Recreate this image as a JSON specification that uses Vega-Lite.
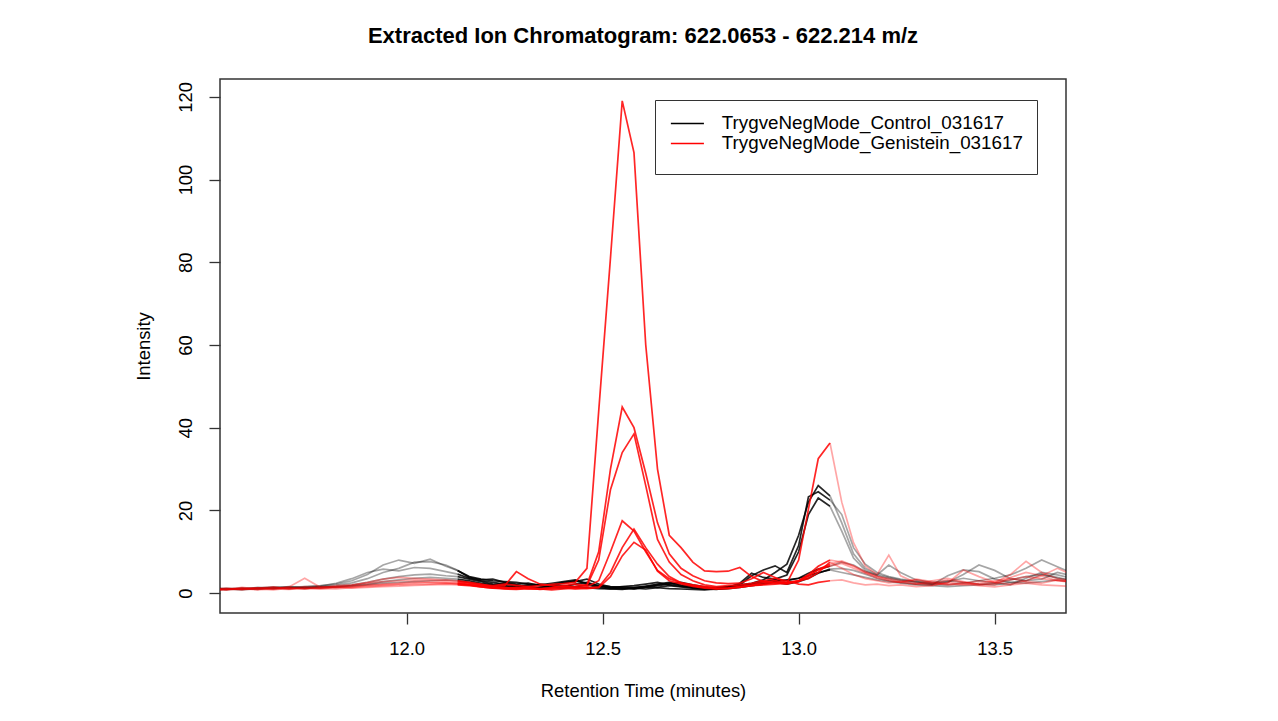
{
"$schema": "https://vega.github.io/schema/vega-lite/v6.json",
"width": 846,
"height": 534,
"autosize": {"type": "none"},
"padding": {"left": 220, "top": 79, "right": 212, "bottom": 108},
"background": "white",
"title": {"text": "Extracted Ion Chromatogram: 622.0653 - 622.214 m/z", "font": "Liberation Sans", "fontSize": 22, "fontWeight": "bold", "color": "#000000", "anchor": "middle", "offset": 31},
"data": {"values": [
{"g":"C","z":"a","t":11.5,"r1":0.8,"r2":1.0,"r3":1.2,"r4":0.9,"r5":1.1,"r6":0.7},
{"g":"C","z":"a","t":11.54,"r1":1.0,"r2":0.9,"r3":1.0,"r4":1.2,"r5":0.8,"r6":1.0},
{"g":"C","z":"a","t":11.58,"r1":1.0,"r2":1.3,"r3":0.8,"r4":1.0,"r5":1.2,"r6":0.9},
{"g":"C","z":"a","t":11.62,"r1":1.3,"r2":1.0,"r3":1.1,"r4":1.4,"r5":0.9,"r6":1.2},
{"g":"C","z":"a","t":11.66,"r1":1.5,"r2":1.2,"r3":1.4,"r4":1.0,"r5":1.3,"r6":1.1},
{"g":"C","z":"a","t":11.7,"r1":1.4,"r2":1.6,"r3":1.2,"r4":1.3,"r5":1.0,"r6":1.5},
{"g":"C","z":"a","t":11.74,"r1":1.6,"r2":1.3,"r3":1.5,"r4":1.1,"r5":1.4,"r6":1.2},
{"g":"C","z":"a","t":11.78,"r1":1.8,"r2":1.5,"r3":1.7,"r4":1.4,"r5":1.2,"r6":1.6},
{"g":"C","z":"a","t":11.82,"r1":2.2,"r2":1.9,"r3":2.4,"r4":1.6,"r5":1.5,"r6":1.4},
{"g":"C","z":"a","t":11.86,"r1":3.0,"r2":2.5,"r3":3.5,"r4":2.0,"r5":1.8,"r6":1.7},
{"g":"C","z":"a","t":11.9,"r1":4.5,"r2":3.5,"r3":5.0,"r4":2.6,"r5":2.2,"r6":2.0},
{"g":"C","z":"a","t":11.94,"r1":6.8,"r2":5.0,"r3":5.8,"r4":3.4,"r5":2.8,"r6":2.4},
{"g":"C","z":"a","t":11.98,"r1":8.0,"r2":6.0,"r3":5.4,"r4":4.0,"r5":3.2,"r6":2.6},
{"g":"C","z":"a","t":12.02,"r1":7.2,"r2":7.5,"r3":6.2,"r4":4.4,"r5":3.6,"r6":2.8},
{"g":"C","z":"a","t":12.06,"r1":8.2,"r2":7.6,"r3":6.0,"r4":4.6,"r5":3.8,"r6":3.0},
{"g":"C","z":"a","t":12.1,"r1":6.5,"r2":6.8,"r3":5.2,"r4":4.2,"r5":3.6,"r6":3.2},
{"g":"C","z":"a","t":12.13,"r1":5.5,"r2":5.5,"r3":4.6,"r4":4.0,"r5":3.4,"r6":3.0},
{"g":"C","z":"b","t":12.13,"r1":5.5,"r2":5.5,"r3":4.6,"r4":4.0,"r5":3.4,"r6":3.0},
{"g":"C","z":"b","t":12.16,"r1":4.0,"r2":3.8,"r3":3.6,"r4":3.4,"r5":3.0,"r6":2.6},
{"g":"C","z":"b","t":12.19,"r1":3.4,"r2":3.2,"r3":3.0,"r4":2.8,"r5":2.4,"r6":2.2},
{"g":"C","z":"b","t":12.22,"r1":3.0,"r2":3.4,"r3":2.6,"r4":2.2,"r5":2.0,"r6":1.8},
{"g":"C","z":"b","t":12.25,"r1":2.8,"r2":2.6,"r3":2.2,"r4":1.8,"r5":2.4,"r6":1.5},
{"g":"C","z":"b","t":12.28,"r1":2.6,"r2":2.2,"r3":1.8,"r4":1.5,"r5":2.0,"r6":1.6},
{"g":"C","z":"b","t":12.31,"r1":2.2,"r2":2.4,"r3":1.6,"r4":1.2,"r5":1.6,"r6":2.0},
{"g":"C","z":"b","t":12.34,"r1":2.0,"r2":1.8,"r3":2.2,"r4":1.4,"r5":1.2,"r6":1.8},
{"g":"C","z":"b","t":12.37,"r1":2.4,"r2":2.0,"r3":1.8,"r4":1.8,"r5":1.5,"r6":1.4},
{"g":"C","z":"b","t":12.4,"r1":2.8,"r2":2.6,"r3":2.4,"r4":1.5,"r5":1.8,"r6":1.2},
{"g":"C","z":"b","t":12.43,"r1":3.2,"r2":2.8,"r3":3.0,"r4":2.2,"r5":1.6,"r6":1.5},
{"g":"C","z":"b","t":12.46,"r1":2.4,"r2":3.4,"r3":2.2,"r4":2.6,"r5":2.0,"r6":1.3},
{"g":"C","z":"b","t":12.49,"r1":1.8,"r2":2.2,"r3":1.6,"r4":1.8,"r5":1.4,"r6":1.1},
{"g":"C","z":"b","t":12.52,"r1":1.6,"r2":1.5,"r3":1.3,"r4":1.2,"r5":1.0,"r6":1.0},
{"g":"C","z":"b","t":12.55,"r1":1.5,"r2":1.2,"r3":1.6,"r4":1.0,"r5":1.3,"r6":0.9},
{"g":"C","z":"b","t":12.58,"r1":1.4,"r2":1.0,"r3":1.8,"r4":1.3,"r5":1.1,"r6":1.2},
{"g":"C","z":"b","t":12.61,"r1":1.6,"r2":1.4,"r3":2.2,"r4":1.7,"r5":1.5,"r6":1.0},
{"g":"C","z":"b","t":12.64,"r1":2.2,"r2":1.8,"r3":2.6,"r4":2.0,"r5":1.4,"r6":1.3},
{"g":"C","z":"b","t":12.67,"r1":2.6,"r2":2.2,"r3":2.0,"r4":2.4,"r5":1.8,"r6":1.1},
{"g":"C","z":"b","t":12.7,"r1":2.0,"r2":2.6,"r3":1.6,"r4":1.8,"r5":1.5,"r6":1.0},
{"g":"C","z":"b","t":12.73,"r1":1.6,"r2":2.0,"r3":1.4,"r4":1.3,"r5":1.2,"r6":0.9},
{"g":"C","z":"b","t":12.76,"r1":1.2,"r2":1.5,"r3":1.1,"r4":1.0,"r5":1.0,"r6":0.8},
{"g":"C","z":"b","t":12.79,"r1":1.4,"r2":1.2,"r3":1.0,"r4":1.2,"r5":0.9,"r6":1.0},
{"g":"C","z":"b","t":12.82,"r1":1.6,"r2":1.3,"r3":1.4,"r4":1.5,"r5":1.2,"r6":1.1},
{"g":"C","z":"b","t":12.85,"r1":2.0,"r2":2.0,"r3":2.4,"r4":1.8,"r5":1.6,"r6":1.4},
{"g":"C","z":"b","t":12.88,"r1":2.4,"r2":4.2,"r3":4.8,"r4":2.2,"r5":2.0,"r6":1.8},
{"g":"C","z":"b","t":12.91,"r1":3.2,"r2":5.6,"r3":3.8,"r4":2.8,"r5":2.4,"r6":2.2},
{"g":"C","z":"b","t":12.94,"r1":5.0,"r2":6.6,"r3":3.4,"r4":3.2,"r5":2.6,"r6":2.8},
{"g":"C","z":"b","t":12.97,"r1":7.0,"r2":5.0,"r3":4.4,"r4":3.0,"r5":2.2,"r6":3.2},
{"g":"C","z":"b","t":13.0,"r1":14.0,"r2":11.5,"r3":10.0,"r4":3.6,"r5":2.8,"r6":3.6},
{"g":"C","z":"b","t":13.025,"r1":22.0,"r2":23.3,"r3":19.0,"r4":4.8,"r5":3.6,"r6":4.2},
{"g":"C","z":"b","t":13.05,"r1":26.0,"r2":24.5,"r3":23.0,"r4":5.8,"r5":4.8,"r6":5.0},
{"g":"C","z":"b","t":13.08,"r1":23.5,"r2":22.5,"r3":21.0,"r4":6.5,"r5":5.8,"r6":5.6},
{"g":"C","z":"c","t":13.08,"r1":23.5,"r2":22.5,"r3":21.0,"r4":6.5,"r5":5.8,"r6":5.6},
{"g":"C","z":"c","t":13.11,"r1":17.0,"r2":19.0,"r3":15.0,"r4":7.5,"r5":6.0,"r6":5.0},
{"g":"C","z":"c","t":13.14,"r1":9.5,"r2":11.0,"r3":8.5,"r4":6.8,"r5":5.5,"r6":4.4},
{"g":"C","z":"c","t":13.17,"r1":6.0,"r2":7.0,"r3":5.5,"r4":5.2,"r5":4.6,"r6":3.8},
{"g":"C","z":"c","t":13.2,"r1":4.5,"r2":5.0,"r3":4.2,"r4":4.4,"r5":3.6,"r6":3.2},
{"g":"C","z":"c","t":13.23,"r1":3.8,"r2":4.0,"r3":3.5,"r4":6.8,"r5":3.0,"r6":2.8},
{"g":"C","z":"c","t":13.26,"r1":3.2,"r2":3.4,"r3":3.0,"r4":5.0,"r5":2.6,"r6":2.4},
{"g":"C","z":"c","t":13.3,"r1":2.8,"r2":2.8,"r3":2.6,"r4":3.2,"r5":2.2,"r6":2.0},
{"g":"C","z":"c","t":13.34,"r1":2.4,"r2":2.2,"r3":2.2,"r4":2.6,"r5":2.0,"r6":1.8},
{"g":"C","z":"c","t":13.38,"r1":2.6,"r2":2.0,"r3":2.8,"r4":3.0,"r5":4.2,"r6":1.6},
{"g":"C","z":"c","t":13.42,"r1":4.5,"r2":2.4,"r3":3.6,"r4":2.6,"r5":5.6,"r6":1.8},
{"g":"C","z":"c","t":13.46,"r1":6.8,"r2":3.0,"r3":3.0,"r4":2.2,"r5":5.2,"r6":2.0},
{"g":"C","z":"c","t":13.5,"r1":5.5,"r2":3.6,"r3":2.4,"r4":2.0,"r5":3.4,"r6":2.4},
{"g":"C","z":"c","t":13.54,"r1":3.5,"r2":4.4,"r3":2.0,"r4":2.6,"r5":2.6,"r6":3.2},
{"g":"C","z":"c","t":13.58,"r1":3.0,"r2":6.0,"r3":3.6,"r4":3.0,"r5":2.4,"r6":4.0},
{"g":"C","z":"c","t":13.62,"r1":4.5,"r2":8.0,"r3":5.0,"r4":3.4,"r5":2.8,"r6":4.6},
{"g":"C","z":"c","t":13.66,"r1":3.6,"r2":6.4,"r3":4.4,"r4":5.0,"r5":3.2,"r6":3.8},
{"g":"C","z":"c","t":13.7,"r1":3.0,"r2":4.8,"r3":3.6,"r4":4.2,"r5":2.6,"r6":3.0},
{"g":"G","z":"a","t":11.5,"r1":0.8,"r2":1.0,"r3":0.6,"r4":1.0,"r5":0.7,"r6":1.2},
{"g":"G","z":"a","t":11.54,"r1":1.0,"r2":1.2,"r3":0.8,"r4":0.8,"r5":1.0,"r6":0.9},
{"g":"G","z":"a","t":11.58,"r1":1.2,"r2":0.9,"r3":1.4,"r4":1.1,"r5":0.8,"r6":1.0},
{"g":"G","z":"a","t":11.62,"r1":0.9,"r2":1.3,"r3":1.0,"r4":1.3,"r5":1.2,"r6":0.8},
{"g":"G","z":"a","t":11.66,"r1":1.4,"r2":1.1,"r3":0.8,"r4":1.0,"r5":1.5,"r6":1.1},
{"g":"G","z":"a","t":11.7,"r1":1.1,"r2":1.5,"r3":1.2,"r4":0.9,"r5":1.0,"r6":1.4},
{"g":"G","z":"a","t":11.74,"r1":1.6,"r2":3.6,"r3":1.0,"r4":1.2,"r5":1.3,"r6":1.0},
{"g":"G","z":"a","t":11.78,"r1":1.3,"r2":1.4,"r3":1.6,"r4":1.0,"r5":1.1,"r6":1.2},
{"g":"G","z":"a","t":11.82,"r1":1.8,"r2":1.6,"r3":1.3,"r4":1.4,"r5":1.0,"r6":1.5},
{"g":"G","z":"a","t":11.86,"r1":2.0,"r2":1.9,"r3":1.5,"r4":1.6,"r5":1.3,"r6":1.2},
{"g":"G","z":"a","t":11.9,"r1":2.4,"r2":2.6,"r3":2.0,"r4":1.8,"r5":1.6,"r6":1.4},
{"g":"G","z":"a","t":11.94,"r1":2.8,"r2":3.4,"r3":2.2,"r4":2.0,"r5":1.8,"r6":1.6},
{"g":"G","z":"a","t":11.98,"r1":3.0,"r2":3.8,"r3":2.4,"r4":2.2,"r5":2.0,"r6":1.7},
{"g":"G","z":"a","t":12.02,"r1":3.2,"r2":3.6,"r3":2.8,"r4":2.4,"r5":2.1,"r6":1.9},
{"g":"G","z":"a","t":12.06,"r1":3.1,"r2":3.4,"r3":2.6,"r4":2.6,"r5":2.2,"r6":2.0},
{"g":"G","z":"a","t":12.1,"r1":2.9,"r2":3.2,"r3":2.5,"r4":2.5,"r5":2.3,"r6":2.1},
{"g":"G","z":"a","t":12.13,"r1":2.7,"r2":3.0,"r3":2.3,"r4":2.4,"r5":2.2,"r6":2.0},
{"g":"G","z":"b","t":12.13,"r1":2.7,"r2":3.0,"r3":2.3,"r4":2.4,"r5":2.2,"r6":2.0},
{"g":"G","z":"b","t":12.16,"r1":2.4,"r2":2.6,"r3":2.0,"r4":2.1,"r5":2.0,"r6":1.8},
{"g":"G","z":"b","t":12.19,"r1":2.0,"r2":2.2,"r3":1.5,"r4":1.8,"r5":1.7,"r6":1.5},
{"g":"G","z":"b","t":12.22,"r1":1.8,"r2":1.6,"r3":1.2,"r4":1.5,"r5":1.4,"r6":1.2},
{"g":"G","z":"b","t":12.25,"r1":2.2,"r2":1.8,"r3":1.4,"r4":1.2,"r5":1.1,"r6":1.0},
{"g":"G","z":"b","t":12.28,"r1":1.9,"r2":5.2,"r3":1.2,"r4":1.4,"r5":1.0,"r6":0.9},
{"g":"G","z":"b","t":12.31,"r1":1.6,"r2":3.5,"r3":1.5,"r4":1.1,"r5":1.2,"r6":1.1},
{"g":"G","z":"b","t":12.34,"r1":1.8,"r2":2.2,"r3":1.1,"r4":1.0,"r5":0.9,"r6":1.0},
{"g":"G","z":"b","t":12.37,"r1":2.1,"r2":1.8,"r3":1.3,"r4":1.3,"r5":1.1,"r6":0.8},
{"g":"G","z":"b","t":12.4,"r1":2.3,"r2":1.5,"r3":1.8,"r4":1.6,"r5":1.3,"r6":1.0},
{"g":"G","z":"b","t":12.43,"r1":2.6,"r2":1.6,"r3":2.2,"r4":1.4,"r5":1.0,"r6":1.2},
{"g":"G","z":"b","t":12.46,"r1":6.0,"r2":2.0,"r3":1.8,"r4":1.5,"r5":1.2,"r6":1.1},
{"g":"G","z":"b","t":12.49,"r1":44.0,"r2":10.0,"r3":8.0,"r4":3.0,"r5":1.5,"r6":1.3},
{"g":"G","z":"b","t":12.52,"r1":81.0,"r2":30.0,"r3":25.0,"r4":10.0,"r5":5.0,"r6":4.0},
{"g":"G","z":"b","t":12.55,"r1":119.0,"r2":45.0,"r3":34.0,"r4":17.5,"r5":11.0,"r6":9.0},
{"g":"G","z":"b","t":12.58,"r1":106.5,"r2":40.0,"r3":38.5,"r4":15.0,"r5":15.5,"r6":12.3},
{"g":"G","z":"b","t":12.61,"r1":60.0,"r2":29.0,"r3":26.0,"r4":10.0,"r5":11.0,"r6":10.4},
{"g":"G","z":"b","t":12.64,"r1":30.0,"r2":17.0,"r3":13.0,"r4":5.5,"r5":7.0,"r6":5.3},
{"g":"G","z":"b","t":12.67,"r1":14.0,"r2":9.5,"r3":7.5,"r4":3.5,"r5":4.0,"r6":3.0},
{"g":"G","z":"b","t":12.7,"r1":11.0,"r2":6.0,"r3":4.5,"r4":2.5,"r5":2.5,"r6":2.2},
{"g":"G","z":"b","t":12.73,"r1":7.5,"r2":4.2,"r3":3.0,"r4":2.0,"r5":1.8,"r6":1.6},
{"g":"G","z":"b","t":12.76,"r1":5.4,"r2":3.0,"r3":2.0,"r4":1.6,"r5":1.4,"r6":1.2},
{"g":"G","z":"b","t":12.79,"r1":5.2,"r2":2.5,"r3":1.6,"r4":1.3,"r5":1.1,"r6":1.0},
{"g":"G","z":"b","t":12.82,"r1":5.3,"r2":2.3,"r3":1.8,"r4":1.2,"r5":1.2,"r6":1.1},
{"g":"G","z":"b","t":12.85,"r1":6.2,"r2":2.4,"r3":2.0,"r4":1.5,"r5":1.6,"r6":1.4},
{"g":"G","z":"b","t":12.88,"r1":4.0,"r2":3.5,"r3":2.4,"r4":1.8,"r5":2.0,"r6":1.8},
{"g":"G","z":"b","t":12.91,"r1":2.8,"r2":5.0,"r3":3.0,"r4":2.0,"r5":2.6,"r6":2.2},
{"g":"G","z":"b","t":12.94,"r1":2.5,"r2":3.8,"r3":3.6,"r4":2.2,"r5":3.0,"r6":2.6},
{"g":"G","z":"b","t":12.97,"r1":2.6,"r2":2.5,"r3":3.0,"r4":2.4,"r5":2.4,"r6":2.2},
{"g":"G","z":"b","t":13.0,"r1":3.0,"r2":3.0,"r3":2.2,"r4":8.0,"r5":2.8,"r6":3.0},
{"g":"G","z":"b","t":13.025,"r1":3.5,"r2":4.5,"r3":2.0,"r4":20.3,"r5":4.0,"r6":4.2},
{"g":"G","z":"b","t":13.05,"r1":5.0,"r2":6.5,"r3":2.6,"r4":32.5,"r5":5.8,"r6":5.6},
{"g":"G","z":"b","t":13.08,"r1":7.5,"r2":8.0,"r3":3.0,"r4":36.3,"r5":7.0,"r6":6.6},
{"g":"G","z":"c","t":13.08,"r1":7.5,"r2":8.0,"r3":3.0,"r4":36.3,"r5":7.0,"r6":6.6},
{"g":"G","z":"c","t":13.11,"r1":6.0,"r2":7.5,"r3":3.2,"r4":22.0,"r5":7.8,"r6":7.2},
{"g":"G","z":"c","t":13.14,"r1":4.5,"r2":6.5,"r3":2.5,"r4":12.2,"r5":6.6,"r6":6.0},
{"g":"G","z":"c","t":13.17,"r1":3.5,"r2":5.0,"r3":2.0,"r4":6.6,"r5":5.2,"r6":4.8},
{"g":"G","z":"c","t":13.2,"r1":3.0,"r2":4.0,"r3":2.2,"r4":4.5,"r5":4.0,"r6":3.6},
{"g":"G","z":"c","t":13.23,"r1":2.5,"r2":3.5,"r3":1.8,"r4":9.2,"r5":3.2,"r6":3.0},
{"g":"G","z":"c","t":13.26,"r1":2.8,"r2":3.0,"r3":2.0,"r4":4.2,"r5":2.6,"r6":2.6},
{"g":"G","z":"c","t":13.3,"r1":3.2,"r2":2.2,"r3":1.6,"r4":2.5,"r5":2.2,"r6":3.4},
{"g":"G","z":"c","t":13.34,"r1":2.5,"r2":3.0,"r3":1.8,"r4":2.0,"r5":2.4,"r6":2.8},
{"g":"G","z":"c","t":13.38,"r1":2.0,"r2":3.6,"r3":2.6,"r4":2.4,"r5":3.2,"r6":2.2},
{"g":"G","z":"c","t":13.42,"r1":2.4,"r2":2.8,"r3":2.2,"r4":5.6,"r5":2.6,"r6":2.0},
{"g":"G","z":"c","t":13.46,"r1":3.0,"r2":2.0,"r3":1.8,"r4":4.0,"r5":2.2,"r6":2.4},
{"g":"G","z":"c","t":13.5,"r1":2.6,"r2":2.5,"r3":1.5,"r4":2.6,"r5":2.0,"r6":3.0},
{"g":"G","z":"c","t":13.54,"r1":3.2,"r2":4.5,"r3":2.0,"r4":2.2,"r5":3.8,"r6":3.6},
{"g":"G","z":"c","t":13.58,"r1":4.0,"r2":7.7,"r3":2.4,"r4":3.0,"r5":5.0,"r6":2.8},
{"g":"G","z":"c","t":13.62,"r1":3.5,"r2":5.0,"r3":2.0,"r4":4.2,"r5":4.2,"r6":2.4},
{"g":"G","z":"c","t":13.66,"r1":3.0,"r2":3.5,"r3":1.8,"r4":6.0,"r5":3.0,"r6":3.2},
{"g":"G","z":"c","t":13.7,"r1":2.8,"r2":3.0,"r3":1.6,"r4":4.4,"r5":2.6,"r6":2.8}
]},
"transform": [{"fold": ["r1","r2","r3","r4","r5","r6"], "as": ["rep","v"]}],
"mark": {"type": "line", "strokeWidth": 1.7, "clip": true},
"encoding": {
  "x": {"field": "t", "type": "quantitative", "scale": {"domain": [11.524, 13.682], "nice": false, "zero": false},
        "axis": {"values": [12, 12.5, 13, 13.5], "format": ".1f", "title": "Retention Time (minutes)", "labelPadding": 15, "titlePadding": 24}},
  "y": {"field": "v", "type": "quantitative", "scale": {"domain": [-4.8, 124.3], "nice": false, "zero": false},
        "axis": {"values": [0, 20, 40, 60, 80, 100, 120], "title": "Intensity", "labelAngle": -90, "labelAlign": "center", "labelBaseline": "bottom", "labelPadding": 14, "titlePadding": 23}},
  "color": {"field": "g", "type": "nominal", "scale": {"domain": ["C","G"], "range": ["#000000", "#ff0000"]},
        "legend": {"title": " ", "titleOrient": "bottom", "titleFontSize": 1, "titlePadding": 6,
                   "labelExpr": "datum.value == 'C' ? 'TrygveNegMode_Control_031617' : 'TrygveNegMode_Genistein_031617'"}},
  "opacity": {"field": "z", "type": "nominal", "scale": {"type": "ordinal", "domain": ["a","b","c"], "range": [0.35, 0.85, 0.35]}, "legend": null},
  "detail": [{"field": "rep", "type": "nominal"}, {"field": "z", "type": "nominal"}]
},
"config": {
  "font": "Liberation Sans",
  "view": {"stroke": "#333333", "strokeWidth": 1.5},
  "axis": {"domain": false, "grid": false, "tickColor": "#333333", "tickSize": 11, "tickWidth": 1.3,
           "labelFont": "Liberation Sans", "labelFontSize": 18.4, "labelColor": "#000000",
           "titleFont": "Liberation Sans", "titleFontSize": 18.4, "titleFontWeight": "normal", "titleColor": "#000000"},
  "legend": {"orient": "none", "legendX": 435, "legendY": 21, "strokeColor": "#333333", "fillColor": "#ffffff",
             "padding": 14, "rowPadding": 0, "labelOffset": 25, "symbolOffset": 9, "symbolType": "M-2.36,0H2.36", "symbolSize": 196,
             "symbolStrokeWidth": 1.5, "labelFont": "Liberation Sans", "labelFontSize": 18.8, "labelColor": "#000000", "labelLimit": 400}
}
}
